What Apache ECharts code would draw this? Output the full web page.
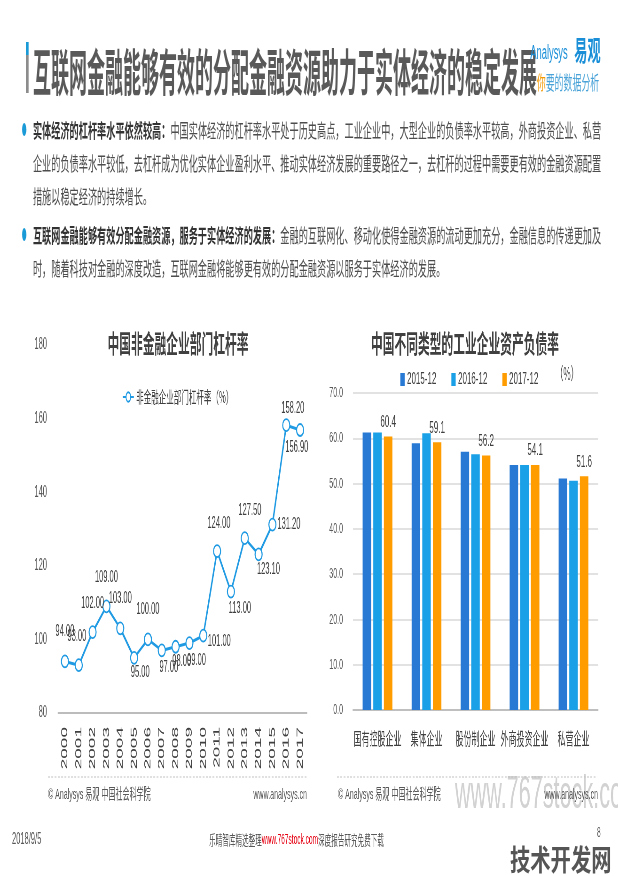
<!DOCTYPE html>
<html>
<head>
<meta charset="utf-8">
<script src="https://cdn.jsdelivr.net/npm/echarts@6/dist/echarts.min.js"></script>
<style>
html,body{margin:0;padding:0;background:#fff;overflow:hidden;width:618px;height:876px;}
#wrap{position:absolute;left:0;top:0;width:1315px;height:876px;transform:scaleX(0.47);transform-origin:0 0;font-family:'Noto Sans CJK SC',sans-serif;}
#chart{position:absolute;left:0;top:0;width:1315px;height:876px;}
.abs{position:absolute;white-space:nowrap;}
.para{position:absolute;left:70px;font-size:19.5px;line-height:33px;color:#4d4d4d;white-space:nowrap;}
.para b{color:#333;font-weight:bold;}
.dot{position:absolute;width:9px;height:13px;border-radius:50%;background:#1a9ad6;}
</style>
</head>
<body>
<div id="wrap">
  <div id="chart"></div>
  <div class="abs" style="left:55px;top:42px;width:6px;height:13px;background:#1a9ad6;"></div>
  <div class="abs" style="left:55px;top:55px;width:6px;height:38px;background:#8c8c8c;"></div>
  <div class="abs" style="left:70px;top:40px;font-size:50px;line-height:58px;font-weight:bold;color:#595959;transform:scaleX(0.766);transform-origin:0 0;">互联网金融能够有效的分配金融资源助力于实体经济的稳定发展</div>
  <div class="abs" style="left:1128px;top:40px;font-family:'Liberation Sans',sans-serif;font-size:20px;line-height:24px;color:#1a8fd8;">Analysys</div>
  <div class="abs" style="left:1222px;top:31px;font-size:28px;line-height:36px;font-weight:bold;color:#1a8fd8;">易观</div>
  <div class="abs" style="left:1142px;top:69px;font-size:19px;line-height:26px;color:#4aa3d8;"><span style="color:#f39800">你</span>要的数据分析</div>
  <div class="dot" style="left:47px;top:123px;"></div>
  <div class="para" style="top:113px;"><b>实体经济的杠杆率水平依然较高：</b>中国实体经济的杠杆率水平处于历史高点，工业企业中，大型企业的负债率水平较高，外商投资企业、私营<br>企业的负债率水平较低，去杠杆成为优化实体企业盈利水平、推动实体经济发展的重要路径之一，去杠杆的过程中需要更有效的金融资源配置<br>措施以稳定经济的持续增长。</div>
  <div class="dot" style="left:47px;top:228px;"></div>
  <div class="para" style="top:218px;"><b>互联网金融能够有效分配金融资源，服务于实体经济的发展：</b>金融的互联网化、移动化使得金融资源的流动更加充分，金融信息的传递更加及<br>时，随着科技对金融的深度改造，互联网金融将能够更有效的分配金融资源以服务于实体经济的发展。</div>
</div>
<div class="abs" style="left:510px;top:842px;font-family:'Noto Sans CJK SC',sans-serif;font-size:29px;line-height:32px;font-weight:bold;color:#555;transform:scaleX(0.70);transform-origin:0 0;">技术开发网</div>
<script>
// ---- data ----
const years = ['2000','2001','2002','2003','2004','2005','2006','2007','2008','2009','2010','2011','2012','2013','2014','2015','2016','2017'];
const leverage = [94.00, 93.00, 102.00, 109.00, 103.00, 95.00, 100.00, 97.00, 98.00, 99.00, 101.00, 124.00, 113.00, 127.50, 123.10, 131.20, 158.20, 156.90];
const leverageName = '非金融企业部门杠杆率（%）';
const sectors = ['国有控股企业','集体企业','股份制企业','外商投资企业','私营企业'];
const periods = ['2015-12','2016-12','2017-12'];
const debt2015 = [61.3, 58.9, 57.0, 54.1, 51.1];
const debt2016 = [61.3, 61.1, 56.5, 54.1, 50.6];
const debt2017 = [60.4, 59.1, 56.2, 54.1, 51.6];
const leftTicks = [80, 100, 120, 140, 160, 180];
const rightTicks = [0, 10, 20, 30, 40, 50, 60, 70];

// ---- label styling (placement only) ----
const labelPos  = ['top','top','top','top','top','bottom','top','bottom','bottom','bottom','right','top','bottom','top','bottom','right','top','bottom'];
const labelDist = [15,14,14,14,15,0,15,2,0,3,1,13,2,13,0,2,2,3];
const labelDx   = [0,-4,0,0,0,13,0,15,13,15,0,4,19,11,21,0,14,-7];
const labelDy   = [0,0,0,0,0,0,0,0,0,0,6,0,0,0,0,0,0,0];

// ---- layout helpers ----
const S = 0.47, W = 1315, H = 876;
const X = a => a / S;
const NUM = "'Liberation Sans', 'Noto Sans CJK SC', sans-serif";
const CJK = "'Noto Sans CJK SC', sans-serif";
const C1 = '#2779d4', C2 = '#1aa0e6', C3 = '#ff9c00', LINE = '#1f9ae3';

const chart = echarts.init(document.getElementById('chart'), null, {renderer: 'canvas'});

const lineData = leverage.map((v, i) => ({
  value: v,
  label: {position: labelPos[i], distance: labelDist[i], offset: [labelDx[i], labelDy[i]]}
}));

function txt(text, x, y, opt) {
  return Object.assign({type: 'text', x: x, y: y, style: Object.assign({text: text, fill: '#595959', fontSize: 15, fontFamily: NUM, textAlign: 'left', textVerticalAlign: 'middle'}, opt || {})});
}

const option = {
  animation: false,
  backgroundColor: '#fff',
  textStyle: {fontFamily: NUM},
  legend: [
    {data: [leverageName], left: X(120), top: 384, itemWidth: X(11), itemHeight: 12,
     textStyle: {fontSize: 16, color: '#404040', fontFamily: CJK}},
    {data: periods, left: X(398), top: 366, itemWidth: X(4.3), itemHeight: 13, itemGap: 32, icon: 'rect',
     textStyle: {fontSize: 17, color: '#404040', fontFamily: NUM}}
  ],
  grid: [
    {left: X(58), right: W - X(307), top: 345, bottom: H - 713},
    {left: X(353), right: W - X(598), top: 393, bottom: H - 710}
  ],
  xAxis: [
    {type: 'category', gridIndex: 0, data: years, boundaryGap: true,
     axisTick: {show: false}, axisLine: {lineStyle: {color: '#a6a6a6', width: 1.5}},
     axisLabel: {rotate: 90, fontSize: 19, color: '#404040', margin: 14, interval: 0, fontFamily: NUM}},
    {type: 'category', gridIndex: 1, data: sectors,
     axisTick: {show: false}, axisLine: {lineStyle: {color: '#bfbfbf', width: 2}},
     axisLabel: {fontSize: 17, color: '#404040', margin: 20, interval: 0, fontFamily: CJK}}
  ],
  yAxis: [
    {type: 'value', gridIndex: 0, min: leftTicks[0], max: leftTicks[leftTicks.length - 1], interval: leftTicks[1] - leftTicks[0],
     splitLine: {show: false}, axisLine: {show: false}, axisTick: {show: false},
     axisLabel: {fontSize: 16, color: '#595959', margin: X(11)}},
    {type: 'value', gridIndex: 1, min: rightTicks[0], max: rightTicks[rightTicks.length - 1], interval: rightTicks[1] - rightTicks[0],
     splitLine: {lineStyle: {color: '#d9d9d9', width: 1.5}}, axisLine: {show: false}, axisTick: {show: false},
     axisLabel: {fontSize: 15, color: '#595959', margin: X(10), formatter: v => v.toFixed(1)}}
  ],
  series: [
    {name: leverageName, type: 'line', xAxisIndex: 0, yAxisIndex: 0, data: lineData,
     symbol: 'emptyCircle', symbolSize: [15, 12], showAllSymbol: true,
     lineStyle: {color: LINE, width: 3}, itemStyle: {color: LINE, borderColor: LINE, borderWidth: 2.5},
     label: {show: true, fontSize: 16, color: '#404040', fontFamily: NUM, formatter: p => p.value.toFixed(2)}},
    {name: periods[0], type: 'bar', xAxisIndex: 1, yAxisIndex: 1, data: debt2015, barWidth: X(8.5), barGap: '25%', itemStyle: {color: C1}},
    {name: periods[1], type: 'bar', xAxisIndex: 1, yAxisIndex: 1, data: debt2016, barWidth: X(8.5), barGap: '25%', itemStyle: {color: C2}},
    {name: periods[2], type: 'bar', xAxisIndex: 1, yAxisIndex: 1, data: debt2017, barWidth: X(8.5), barGap: '25%', itemStyle: {color: C3},
     label: {show: true, position: 'top', distance: 6, fontSize: 17, color: '#404040', fontFamily: NUM, formatter: p => p.value.toFixed(1)}}
  ],
  graphic: [
    txt('www.767stock.com', X(455), 795, {fontSize: 46, fill: '#d2d2d2'}),
    txt('中国非金融企业部门杠杆率', X(178), 343, {fontSize: 25, fontWeight: 'bold', fill: '#404040', fontFamily: CJK, textAlign: 'center'}),
    txt('中国不同类型的工业企业资产负债率', X(465), 343, {fontSize: 25, fontWeight: 'bold', fill: '#404040', fontFamily: CJK, textAlign: 'center'}),
    txt('（%）', X(567), 374, {fontSize: 17, fill: '#404040', fontFamily: CJK, textAlign: 'center'}),
    {type: 'line', shape: {x1: X(48), y1: 777, x2: X(307), y2: 777}, style: {stroke: '#bfbfbf', lineWidth: 1, lineDash: [4, 3]}},
    {type: 'line', shape: {x1: X(337), y1: 777, x2: X(597), y2: 777}, style: {stroke: '#bfbfbf', lineWidth: 1, lineDash: [4, 3]}},
    txt('© Analysys 易观 中国社会科学院', X(48), 795, {fontSize: 15}),
    txt('www.analysys.cn', X(307), 795, {fontSize: 15, textAlign: 'right'}),
    txt('© Analysys 易观 中国社会科学院', X(338), 795, {fontSize: 15}),
    txt('www.analysys.cn', X(598), 795, {fontSize: 15, textAlign: 'right'}),
    txt('2018/9/5', X(12), 840, {fontSize: 16}),
    {type: 'text', x: X(296.5), y: 840, style: {
      text: '{a|乐晴智库精选整理}{b|www.767stock.com}{a|深度报告研究免费下载}',
      textAlign: 'center', textVerticalAlign: 'middle',
      rich: {a: {fontSize: 14, fill: '#595959', fontFamily: CJK}, b: {fontSize: 14, fill: '#e60012', fontFamily: NUM}}
    }},
    txt('8', X(597), 833, {fontSize: 14})
  ]
};
chart.setOption(option);
</script>
</body>
</html>
